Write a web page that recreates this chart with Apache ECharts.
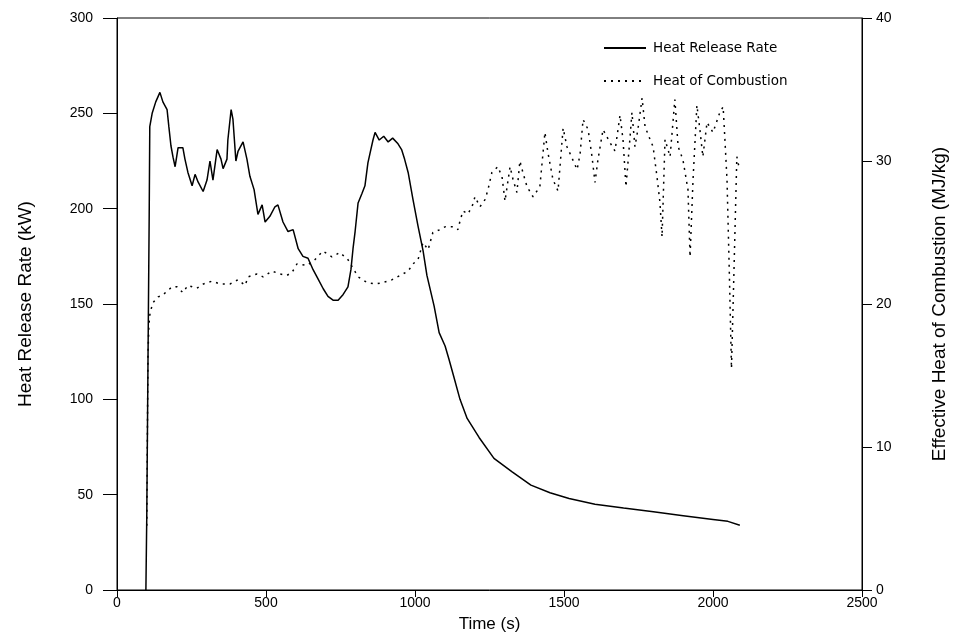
<!DOCTYPE html>
<html>
<head>
<meta charset="utf-8">
<script src="https://cdn.jsdelivr.net/npm/echarts@6/dist/echarts.min.js"></script>
<style>
html, body { margin: 0; padding: 0; background: #fff; }
#maindiv { width: 963px; height: 638px; }
</style>
</head>
<body>
<div id="maindiv"></div>
<script>
// Heat release rate (kW), time in s
var hrrTime = [97, 100, 104, 108, 110, 118, 130, 144, 154, 168, 174, 181, 188, 195, 205, 221, 228, 238, 252, 262,
    272, 289, 302, 312, 322, 336, 349, 356, 369, 372, 383, 389, 399, 406, 423, 436, 446, 460, 473, 487,
    497, 513, 530, 540, 557, 574, 591, 608, 624, 641, 658, 675, 692, 708, 725, 742, 759, 775, 785, 792,
    799, 809, 822, 832, 842, 849, 859, 866, 880, 895, 910, 925, 943, 955, 965, 977, 993, 1010, 1027, 1040,
    1064, 1081, 1101, 1114, 1130, 1151, 1175, 1215, 1265, 1326, 1389, 1453, 1517, 1604, 1700, 1800, 1900, 2000, 2050, 2090];
var hrrValue = [0, 40, 120, 196, 243, 250, 256, 261, 256, 252, 243, 233, 227, 222, 232, 232, 226, 219, 212, 218,
    214, 209, 215, 225, 215, 231, 226, 221, 226, 236, 252, 247, 225, 230, 235, 226, 217, 210, 197, 202,
    193, 196, 201, 202, 193, 188, 189, 179, 175, 174, 168, 163, 158, 154, 152, 152, 155, 159, 168, 179,
    188, 203, 208, 212, 224, 229, 236, 240, 236, 238, 235, 237, 234, 231, 226, 219, 205, 191, 178, 165,
    149, 135, 128, 121, 112, 100, 90, 80, 69, 62, 55, 51, 48, 45, 43, 41, 39, 37, 36, 34];

// Effective heat of combustion (MJ/kg)
var hocTime = [100, 102, 104, 107, 111, 121, 138, 152, 168, 185, 201, 221, 238, 268, 290, 319, 346, 379, 406, 430,
    440, 470, 490, 520, 547, 570, 587, 604, 638, 664, 691, 721, 748, 775, 809, 839, 866, 893, 923, 950,
    977, 993, 1010, 1027, 1044, 1060, 1084, 1101, 1128, 1144, 1151, 1161, 1178, 1195, 1201, 1218, 1235, 1245, 1258, 1278,
    1292, 1302, 1319, 1329, 1342, 1352, 1362, 1376, 1396, 1419, 1436, 1446, 1463, 1480, 1497, 1510, 1527, 1544, 1554, 1564,
    1581, 1594, 1604, 1614, 1631, 1654, 1671, 1688, 1698, 1708, 1721, 1728, 1738, 1748, 1762, 1772, 1789, 1799, 1812, 1822,
    1829, 1839, 1856, 1872, 1883, 1899, 1916, 1923, 1933, 1946, 1956, 1966, 1980, 2000, 2023, 2034, 2040, 2047, 2055, 2062,
    2070, 2080, 2088];
var hocValue = [4.5, 11, 16.5, 18.5, 19.4, 20.1, 20.5, 20.6, 20.9, 21.2, 21.2, 20.8, 21.3, 21.1, 21.4, 21.6, 21.4, 21.4, 21.7, 21.3,
    21.9, 22.1, 21.9, 22.3, 22.1, 22.0, 22.2, 22.8, 22.7, 23.1, 23.7, 23.3, 23.6, 23.1, 21.9, 21.5, 21.4, 21.5, 21.7, 22.0,
    22.3, 22.8, 23.1, 24.3, 23.8, 25.0, 25.2, 25.4, 25.4, 25.2, 25.8, 26.5, 26.3, 27.0, 27.5, 26.8, 27.3, 28.0, 29.2, 29.6,
    28.9, 27.2, 29.6, 28.7, 27.8, 30.0, 29.2, 28.2, 27.5, 28.2, 32.0, 30.6, 28.7, 27.9, 32.3, 31.0, 30.2, 29.4, 30.5, 32.9,
    32.2, 30.3, 28.5, 30.1, 32.2, 31.3, 30.7, 33.2, 31.5, 28.2, 31.5, 33.4, 31.0, 32.2, 34.4, 32.4, 31.5, 31.0, 28.9, 27.1,
    24.7, 31.5, 30.3, 34.3, 31.0, 30.1, 28.0, 23.3, 28.7, 33.9, 32.2, 30.3, 32.7, 32.0, 33.4, 33.8, 31.5, 28.7, 22, 15.5,
    22, 30.3, 29.5];

var xTicks = [0, 500, 1000, 1500, 2000, 2500];
var leftTicks = [0, 50, 100, 150, 200, 250, 300];
var rightTicks = [0, 10, 20, 30, 40];

var name1 = 'Heat Release Rate';
var name2 = 'Heat of Combustion';

function pairs(xs, ys) {
    var out = [];
    for (var i = 0; i < xs.length; i++) out.push([xs[i], ys[i]]);
    return out;
}
function plain(v) { return String(v); }

var axisFont = { fontFamily: 'Liberation Sans', fontSize: 14, color: '#000', formatter: plain };
var nameFont = { fontFamily: 'Liberation Sans', fontSize: 17, color: '#000' };
var yNameFont = { fontFamily: 'Liberation Sans', fontSize: 19, color: '#000' };

var chart = echarts.init(document.getElementById('maindiv'));
chart.setOption({
    backgroundColor: '#fff',
    animation: false,
    grid: { left: 117, right: 101, top: 18, bottom: 46, show: true, borderColor: '#000', borderWidth: 1, backgroundColor: 'transparent' },
    legend: {
        orient: 'vertical', left: 598, top: 36, itemWidth: 42, itemHeight: 10, itemGap: 19,
        itemStyle: { opacity: 0 },
        textStyle: { fontFamily: 'DejaVu Sans', fontSize: 13.5, color: '#000', padding: [0, 0, 0, 2] },
        data: [name1, name2]
    },
    xAxis: {
        type: 'value', min: xTicks[0], max: xTicks[xTicks.length - 1], interval: 500,
        name: 'Time (s)', nameLocation: 'middle', nameGap: 26, nameTextStyle: nameFont,
        axisLine: { lineStyle: { color: '#000', width: 1 } },
        axisTick: { inside: false, length: 7, lineStyle: { color: '#000' } },
        axisLabel: Object.assign({ margin: 6 }, axisFont),
        splitLine: { show: false }
    },
    yAxis: [{
        type: 'value', min: leftTicks[0], max: leftTicks[leftTicks.length - 1], interval: 50,
        name: 'Heat Release Rate (kW)', nameLocation: 'middle', nameGap: 82, nameTextStyle: yNameFont,
        axisLine: { show: true, lineStyle: { color: '#000', width: 1 } },
        axisTick: { show: true, inside: false, length: 14, lineStyle: { color: '#000' } },
        axisLabel: Object.assign({ margin: 24 }, axisFont),
        splitLine: { show: false }
    }, {
        type: 'value', min: rightTicks[0], max: rightTicks[rightTicks.length - 1], interval: 10,
        name: 'Effective Heat of Combustion (MJ/kg)', nameLocation: 'middle', nameGap: 68, nameTextStyle: yNameFont,
        position: 'right',
        axisLine: { show: true, lineStyle: { color: '#000', width: 1 } },
        axisTick: { show: true, inside: false, length: 10, lineStyle: { color: '#000' } },
        axisLabel: Object.assign({ margin: 14 }, axisFont),
        splitLine: { show: false }
    }],
    series: [{
        name: name1, type: 'line', yAxisIndex: 0, symbol: 'none', smooth: false,
        lineStyle: { color: '#000', width: 1.5, type: 'solid' },
        itemStyle: { color: '#000' },
        data: pairs(hrrTime, hrrValue)
    }, {
        name: name2, type: 'line', yAxisIndex: 1, symbol: 'none', smooth: false,
        lineStyle: { color: '#000', width: 1.5, type: [2, 5] },
        itemStyle: { color: '#000' },
        data: pairs(hocTime, hocValue)
    }]
});
</script>
</body>
</html>
